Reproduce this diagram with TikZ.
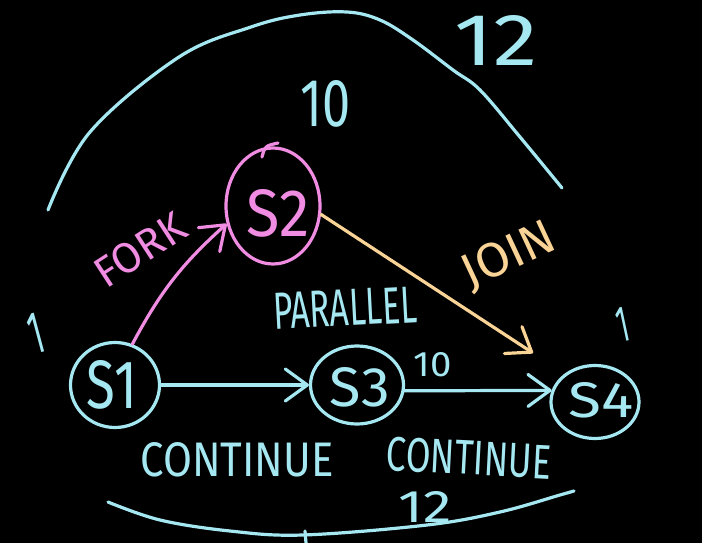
\documentclass[tikz,border=0pt]{standalone}
\usepackage{fontspec}
\usepackage{graphicx}
\setmainfont{Fira Sans}
\usetikzlibrary{shapes.geometric,arrows.meta}
\definecolor{cy}{RGB}{165,232,242}
\definecolor{pk}{RGB}{240,140,225}
\definecolor{og}{RGB}{250,212,150}
\newcommand{\hw}[3]{\resizebox{#1pt}{#2pt}{#3}}
\begin{document}
\begin{tikzpicture}[x=1pt,y=-1pt,
  ln/.style={line width=3.2pt, line cap=round, line join=round},
  stnode/.style={ellipse, draw=cy, ln, inner sep=0pt},
  txt/.style={inner sep=0pt, text=cy},
  arr/.style={-{Straight Barb[length=22pt,width=32pt,round]}}]
\fill[black] (0,0) rectangle (702,543);
\useasboundingbox (0,0) rectangle (702,543);

% state nodes
\node[stnode, minimum width=89pt, minimum height=85pt] (s1) at (115,385) {};
\node[stnode, draw=pk, minimum width=94pt, minimum height=116pt] (s2) at (273,206) {};
\node[stnode, minimum width=93pt, minimum height=78pt] (s3) at (357,385) {};
\node[stnode, minimum width=88pt, minimum height=73pt] (s4) at (595,402) {};

% node labels
\node[txt] (l1) at (112,385) {\hw{50}{48}{S1}};
\node[txt, text=pk] (l2) at (278,213) {\hw{63}{47}{S2}};
\node[txt] (l3) at (360,387) {\hw{60}{39}{S3}};
\node[txt] (l4) at (601,400) {\hw{65}{35}{S4}};

% S2 pen hook
\draw[ln, pk] (262,157) .. controls (265,146) .. (278,143);

% connectors
\coordinate (joinend) at (533,353);
\draw[ln, cy, arr] (s1.east) -- (s3.west);
\draw[ln, cy, arr] (s3.-7) -- (s4.165);
\draw[ln, pk, arr] (s1.67) to[bend left=10] (s2.201);
\draw[ln, og, arr] (s2.-10) -- (joinend);

% edge texts
\node[txt, text=pk, rotate=33] (fork) at (140,250) {\hw{100}{30}{FORK}};
\node[txt, text=og, rotate=25] (join) at (509,256) {\hw{98}{34}{JOIN}};
\node[txt, rotate=3] (par) at (345,308) {\hw{144}{36}{PARALLEL}};
\node[txt] (c1) at (237,460) {\hw{193}{34}{CONTINUE}};
\node[txt, rotate=-3] (c2) at (469,458) {\hw{165}{34}{CONTINUE}};

% numbers
\node[txt] (t12) at (496,40) {\hw{83}{50}{12}};
\node[txt] (t10) at (326,104) {\hw{50}{46}{10}};
\node[txt] (t10b) at (433,365) {\hw{38}{24}{10}};
\node[txt] (b12) at (425,507) {\hw{53}{31}{12}};
\node[txt, rotate=15] (one1) at (36,333) {\hw{14}{40}{1}};
\node[txt, rotate=12] (one2) at (623,325) {\hw{12}{34}{1}};

% arcs
\draw[ln, cy] plot[smooth, tension=0.6] coordinates {(48,210) (90,132) (179,57) (251,27) (300,15) (347,12) (380,20) (413,40) (453,70) (480,90) (520,137) (562,188)};
\draw[ln, cy] plot[smooth, tension=0.6] coordinates {(108,502) (160,520) (230,531) (303,535) (427,525) (500,512) (560,495) (574,491)};
\draw[ln, cy] (305,531) -- (306,543);
\end{tikzpicture}
\end{document}
